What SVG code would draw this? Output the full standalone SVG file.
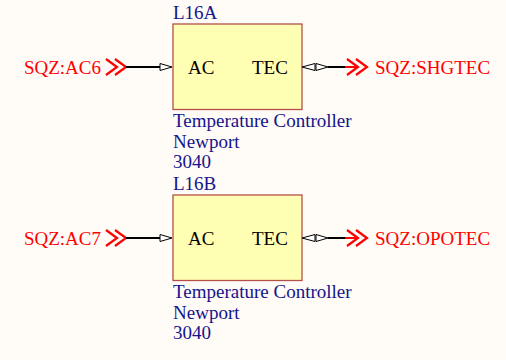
<svg xmlns="http://www.w3.org/2000/svg" width="506" height="360" viewBox="0 0 506 360">
<style>
.bg{fill:#FFFBF6}
.box{fill:#FFFFB4;stroke:#B4504B;stroke-width:1.3}
.lbl{font-family:"Liberation Serif",serif;font-size:19px;fill:#14148C}
.pin{font-family:"Liberation Serif",serif;font-size:19px;fill:#000}
.port{font-family:"Liberation Serif",serif;font-size:19px;fill:#FF0000}
.wire{stroke:#000;stroke-width:2;fill:none}
.rwire{stroke:#FF0000;stroke-width:2;fill:none}
.chev{stroke:#FF0000;stroke-width:2.2;fill:none}
.tri{fill:#fff;stroke:#000;stroke-width:1}
</style>
<rect class="bg" x="0" y="0" width="506" height="360"/>
<g id="L16A">
<text class="lbl" x="173" y="19">L16A</text>
<rect class="box" x="173" y="24" width="129" height="85.5"/>
<text class="pin" x="188" y="74">AC</text>
<text class="pin" x="252" y="74">TEC</text>
<text class="lbl" x="173" y="127">Temperature Controller</text>
<text class="lbl" x="173" y="148">Newport</text>
<text class="lbl" x="173" y="168">3040</text>
</g>
<g id="L16B">
<text class="lbl" x="173" y="190">L16B</text>
<rect class="box" x="173" y="195" width="129" height="85.5"/>
<text class="pin" x="188" y="245">AC</text>
<text class="pin" x="252" y="245">TEC</text>
<text class="lbl" x="173" y="298">Temperature Controller</text>
<text class="lbl" x="173" y="319">Newport</text>
<text class="lbl" x="173" y="339">3040</text>
</g>
<g id="port-AC6">
<text class="port" x="101" y="74" text-anchor="end">SQZ:AC6</text>
<path class="chev" d="M106,59 L117,67 L106,75 M115,59 L126,67 L115,75"/>
</g>
<g id="port-SHGTEC">
<text class="port" x="375" y="74">SQZ:SHGTEC</text>
<path class="chev" d="M347,59 L358,67 L347,75 M356,59 L367,67 L356,75"/>
</g>
<g id="port-AC7">
<text class="port" x="101" y="245" text-anchor="end">SQZ:AC7</text>
<path class="chev" d="M106,230 L117,238 L106,246 M115,230 L126,238 L115,246"/>
</g>
<g id="port-OPOTEC">
<text class="port" x="375" y="245">SQZ:OPOTEC</text>
<path class="chev" d="M347,230 L358,238 L347,246 M356,230 L367,238 L356,246"/>
</g>
<g id="connectors">
<line class="wire" x1="126" y1="67" x2="161" y2="67"/>
<polygon class="tri" points="160,63.5 172,67 160,70.5"/>
<polygon class="tri" points="302,67 315,63.5 315,70.5"/>
<polygon class="tri" points="328,67 316,63.5 316,70.5"/>
<line class="wire" x1="328" y1="67" x2="345" y2="67"/>
<line class="rwire" x1="345" y1="67" x2="357" y2="67"/>
<line class="wire" x1="126" y1="238" x2="161" y2="238"/>
<polygon class="tri" points="160,234.5 172,238 160,241.5"/>
<polygon class="tri" points="302,238 315,234.5 315,241.5"/>
<polygon class="tri" points="328,238 316,234.5 316,241.5"/>
<line class="wire" x1="328" y1="238" x2="345" y2="238"/>
<line class="rwire" x1="345" y1="238" x2="357" y2="238"/>
</g>
</svg>
